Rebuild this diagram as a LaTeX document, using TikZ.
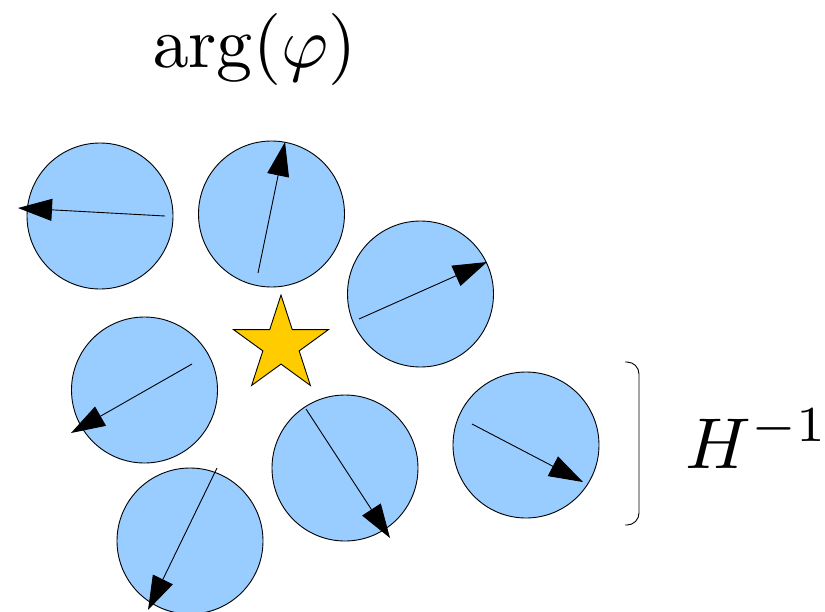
\documentclass[tikz,border=0pt]{standalone}
\usetikzlibrary{arrows.meta,shapes.geometric}
\definecolor{discblue}{HTML}{99CCFF}
\definecolor{staryellow}{HTML}{FFCC00}
\tikzset{
  disc/.style={circle, draw=black, line width=0.9pt, fill=discblue, minimum size=146pt, inner sep=0pt},
  vec/.style={line width=0.9pt, -{Triangle[length=34pt,width=22pt]}},
  bigmath/.style={inner sep=0pt, scale=7.2},
}
\begin{document}
\begin{tikzpicture}[x=1pt,y=-1pt]
\useasboundingbox (0,0) rectangle (825,611);
% discs
\node[disc] (d1) at (100,216) {};
\node[disc] (d2) at (271.5,214) {};
\node[disc] (d3) at (420.5,294) {};
\node[disc] (d4) at (144.5,390) {};
\node[disc] (d5) at (190,541) {};
\node[disc] (d6) at (345,468) {};
\node[disc] (d7) at (526,445) {};
% star
\node[star, star points=5, star point ratio=2.618, minimum size=100pt, inner sep=0pt,
      draw=black, line width=0.9pt, fill=staryellow] (st) at (281,345) {};
% arrow end points
\coordinate (a1s) at (165,216); \coordinate (a1e) at (18,208);
\coordinate (a2s) at (258,273); \coordinate (a2e) at (285,142);
\coordinate (a3s) at (359,319); \coordinate (a3e) at (487,262);
\coordinate (a4s) at (192,364); \coordinate (a4e) at (71,433);
\coordinate (a5s) at (217,468); \coordinate (a5e) at (148,610);
\coordinate (a6s) at (306,409); \coordinate (a6e) at (390,538);
\coordinate (a7s) at (472,424); \coordinate (a7e) at (583,482);
\draw[vec] (a1s) -- (a1e);
\draw[vec] (a2s) -- (a2e);
\draw[vec] (a3s) -- (a3e);
\draw[vec] (a4s) -- (a4e);
\draw[vec] (a5s) -- (a5e);
\draw[vec] (a6s) -- (a6e);
\draw[vec] (a7s) -- (a7e);
% bracket
\coordinate (bt) at (625,362); \coordinate (bb) at (625,525);
\draw[line width=0.9pt, rounded corners=12pt] (bt) -- (639,362) -- (639,525) -- (bb);
% labels
\node[bigmath, anchor=base west] (argl) at (151,67) {$\arg(\varphi)$};
\node[bigmath, anchor=base west] (hl) at (684,468) {$H^{-1}$};
\end{tikzpicture}
\end{document}
